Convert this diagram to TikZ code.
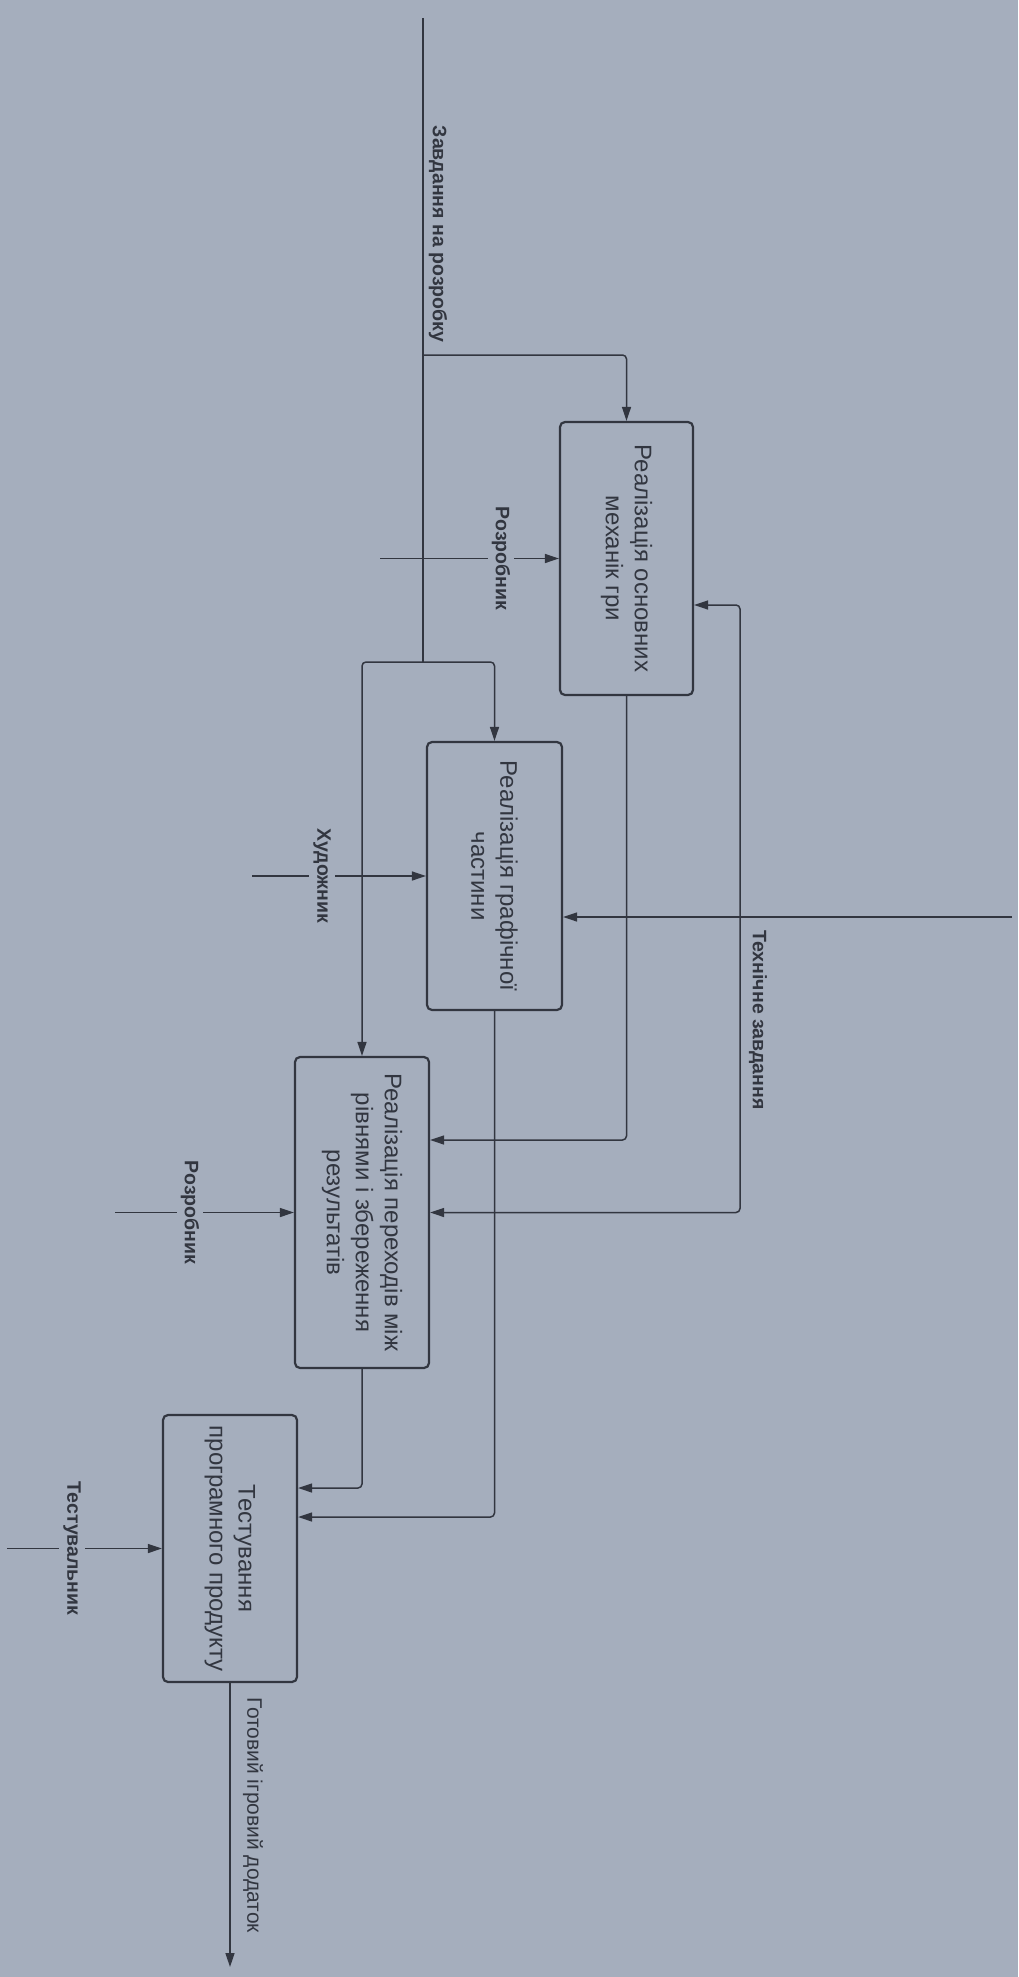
\documentclass[tikz,border=0pt]{standalone}
\usepackage{fontspec}
\setmainfont{Liberation Sans}
\usetikzlibrary{arrows.meta,calc}
\definecolor{paper}{RGB}{165,174,189}
\definecolor{ink}{RGB}{50,54,64}
\begin{document}
\begin{tikzpicture}[x=1pt,y=1pt,
  proc/.style={draw=ink, line width=2.2pt, rounded corners=5pt, rotate=-90,
    align=center, font=\fontsize{24}{29}\selectfont, text=ink, inner sep=0pt},
  ln/.style={draw=ink, line width=1.5pt},
  arr/.style={ln, -{Triangle[length=14pt,width=9pt]}, rounded corners=4pt},
  lbl/.style={rotate=-90, font=\bfseries\fontsize{19.5}{23}\selectfont, text=ink,
    fill=paper, inner sep=4pt},
]
\useasboundingbox (0,0) rectangle (1018,-1977);
\fill[paper] (0,0) rectangle (1018,-1977);

% boxes
\node[proc, minimum width=273pt, minimum height=133pt] (b1) at (626.5,-558.5) {Реалізація основних\\механік гри};
\node[proc, minimum width=268pt, minimum height=135pt] (b2) at (494.5,-876) {Реалізація графічної\\частини};
\node[proc, minimum width=311pt, minimum height=134pt] (b3) at (362,-1212.5) {Реалізація переходів між\\рівнями і збереження\\результатів};
\node[proc, minimum width=267pt, minimum height=134pt] (b4) at (230,-1548.5) {Тестування\\програмного продукту};

% coordinates
\coordinate (zin) at (423,-18);
\coordinate (j1) at (423,-355);
\coordinate (j2) at (423,-662);
\coordinate (m1) at (380,-558.5);
\coordinate (m2) at (252,-876);
\coordinate (m3) at (115,-1212.5);
\coordinate (m4) at (7,-1548.5);
\coordinate (tin) at (1012,-917);
\coordinate (tj) at (740,-917);
\coordinate (gout) at (230,-1967);

% inputs
\draw[ln] (zin) -- (j2);
\draw[arr] (j1) -| (b1.west);
\draw[arr] (j2) -| (b2.west);
\draw[arr] (j2) -| (b3.west);

% mechanisms
\draw[arr] (m1) -- (b1.south);
\draw[arr] (m2) -- (b2.south);
\draw[arr] (m3) -- (b3.south);
\draw[arr] (m4) -- (b4.south);

% controls
\draw[arr] (tin) -- (b2.north |- tin);
\draw[arr] (tj) |- ($(b1.north)+(0,-46.5)$);
\draw[arr] (tj) |- (b3.north);

% outputs
\draw[arr] (b1.east) |- ($(b3.north)+(0,72.5)$);
\draw[arr] (b2.east) |- ($(b4.north)+(0,31.5)$);
\draw[arr] (b3.east) |- ($(b4.north)+(0,60.5)$);
\draw[arr] (b4.east) -- (gout);

% labels
\node[lbl] (lz) at (438,-234) {Завдання на розробку};
\node[lbl] (lr1) at (501,-558.5) {Розробник};
\node[lbl] (lh) at (322,-876) {Художник};
\node[lbl] (lr2) at (190,-1212.5) {Розробник};
\node[lbl] (lt) at (72,-1548.5) {Тестувальник};
\node[lbl, fill=none] (ltz) at (758,-1020) {Технічне завдання};
\node[lbl, fill=none, font=\fontsize{21}{25}\selectfont] (lg) at (253,-1815) {Готовий ігровий додаток};
\end{tikzpicture}
\end{document}
